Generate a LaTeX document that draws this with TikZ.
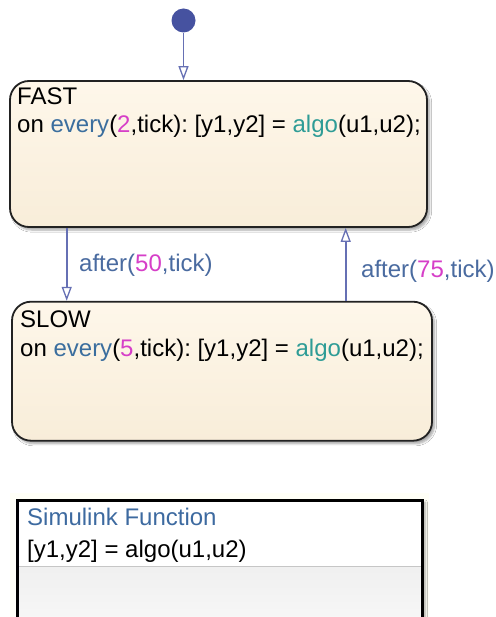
\documentclass[tikz,border=0pt]{standalone}
\usepackage{fontspec}
\setmainfont{Liberation Sans}
\frenchspacing
\usetikzlibrary{arrows.meta,shadows.blur,calc}
\definecolor{kwblue}{HTML}{3B6E9E}
\definecolor{nummag}{HTML}{D63FC8}
\definecolor{fnteal}{HTML}{2E9C96}
\definecolor{lblblue}{HTML}{4A6BA0}
\definecolor{trline}{HTML}{6670B4}
\definecolor{dotcol}{HTML}{4652A0}
\definecolor{sttop}{HTML}{FEF7EA}
\definecolor{stbot}{HTML}{F8EDD9}
\definecolor{border}{HTML}{222222}
\definecolor{sfblue}{HTML}{3D6AA0}
\tikzset{
  statebox/.style={rectangle, rounded corners=19pt, draw=border, line width=1.8pt,
    top color=sttop, bottom color=stbot, inner sep=0pt,
    blur shadow={shadow xshift=2.5pt, shadow yshift=-3pt, shadow blur steps=6, shadow opacity=35}},
  txt/.style={anchor=base west, inner sep=0pt, font=\fontsize{24}{28}\selectfont},
  trans/.style={draw=trline, line width=1.6pt, -{Triangle[open, length=14pt, width=10pt, line width=1.3pt]}},
  lbl/.style={txt, text=lblblue},
}
\begin{document}
\begin{tikzpicture}[x=1pt,y=-1pt]
\useasboundingbox (0,0) rectangle (495,617);
\fill[white] (0,0) rectangle (495,617);
% initial dot
\node[circle, fill=dotcol, minimum size=24pt, inner sep=0pt] (dot) at (183.5,20.5) {};
% states
\node[statebox, minimum width=417pt, minimum height=146pt] (fast) at (218.5,154) {};
\node[statebox, minimum width=420pt, minimum height=139pt] (slow) at (222,371.2) {};
\node[txt] (fastname) at (17,105) {FAST};
\node[txt] (fastact) at (17,133) {on \textcolor{kwblue}{every}(\textcolor{nummag}{2},tick): [y1,y2] = \textcolor{fnteal}{algo}(u1,u2);};
\node[txt] (slowname) at (20,327.5) {SLOW};
\node[txt] (slowact) at (20,356.5) {on \textcolor{kwblue}{every}(\textcolor{nummag}{5},tick): [y1,y2] = \textcolor{fnteal}{algo}(u1,u2);};
% transitions
\coordinate (lx) at (66.7,0);
\coordinate (rx) at (345.7,0);
\draw[trans] (dot) -- (dot |- fast.north);
\draw[trans] (fast.south -| lx) -- (slow.north -| lx);
\draw[trans] (slow.north -| rx) -- (fast.south -| rx);
\node[lbl] (l50) at (79,271.5) {after(\textcolor{nummag}{50},tick)};
\node[lbl] (l75) at (361,277.5) {after(\textcolor{nummag}{75},tick)};
% simulink function
\fill[yellow!3] (10,493) rectangle (429,625);
\node[rectangle, fill=white, inner sep=0pt, minimum width=405pt, minimum height=140pt, anchor=north west,
  blur shadow={shadow xshift=3pt, shadow yshift=-2pt, shadow blur steps=6, shadow opacity=35}] (sfun) at (17,500) {};
\shade[top color=gray!12, bottom color=gray!4] (18.5,567) rectangle (420.5,640);
\draw[gray!45, line width=1pt] (18.5,566.5) -- (420.5,566.5);
\draw[black, line width=3pt] (sfun.south west) rectangle (sfun.north east);
\node[txt, text=sfblue] (sftitle) at (27,525) {Simulink Function};
\node[txt] (sfsig) at (27,557) {[y1,y2] = algo(u1,u2)};
\end{tikzpicture}
\end{document}
